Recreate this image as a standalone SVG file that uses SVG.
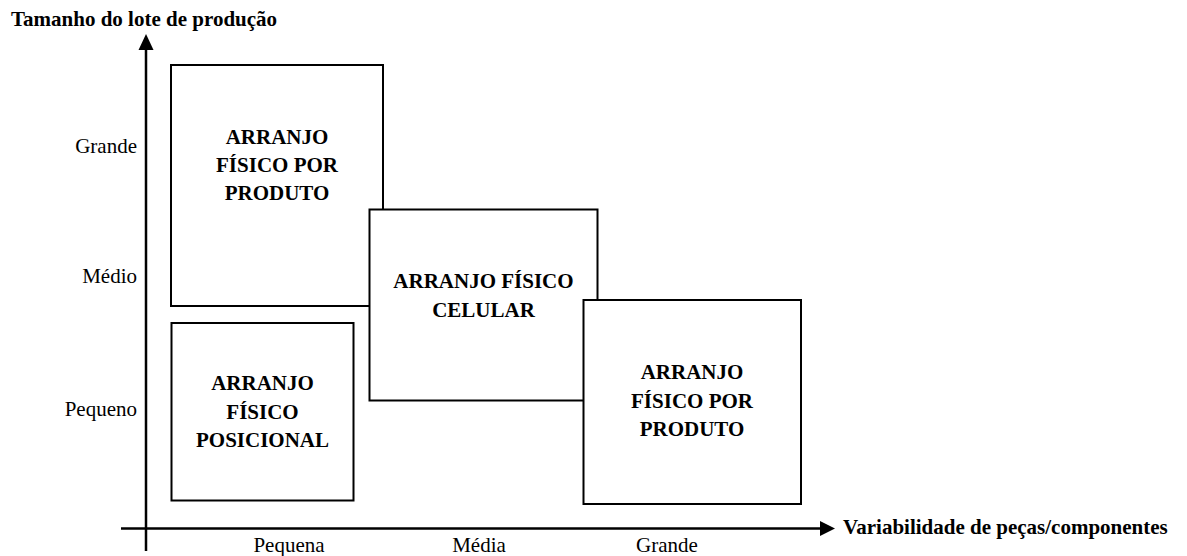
<svg xmlns="http://www.w3.org/2000/svg" width="1187" height="556" viewBox="0 0 1187 556">
<style>
text{font-family:"Liberation Serif","Times New Roman",serif;font-size:21px;fill:#000}
.b{font-weight:bold}
.c{text-anchor:middle}
.e{text-anchor:end}
.box{fill:#fff;stroke:#000;stroke-width:2}
.ax{stroke:#000;stroke-width:2.5;fill:none}
</style>
<rect width="1187" height="556" fill="#fff"/>
<g id="connectors">
<line class="ax" x1="146" y1="48" x2="146" y2="551"/>
<polygon points="146,34 138.5,50 153.5,50" fill="#000"/>
<line class="ax" x1="121" y1="528.5" x2="822" y2="528.5"/>
<polygon points="835,528.5 820,521 820,536" fill="#000"/>
</g>
<g id="axis-labels">
<text class="b" x="11" y="26">Tamanho do lote de produção</text>
<text class="b" x="843" y="534">Variabilidade de peças/componentes</text>
<text class="e" x="137" y="153">Grande</text>
<text class="e" x="137" y="283">Médio</text>
<text class="e" x="137" y="416">Pequeno</text>
<text class="c" x="289" y="552">Pequena</text>
<text class="c" x="479" y="552">Média</text>
<text class="c" x="667" y="552">Grande</text>
</g>
<g id="node-produto-1">
<rect class="box" x="171" y="65" width="212" height="241"/>
<text class="b c" x="277" y="144">ARRANJO</text>
<text class="b c" x="277" y="172">FÍSICO POR</text>
<text class="b c" x="277" y="200">PRODUTO</text>
</g>
<g id="node-posicional">
<rect class="box" x="171.5" y="323" width="182" height="177.5"/>
<text class="b c" x="262.5" y="390">ARRANJO</text>
<text class="b c" x="262.5" y="418.5">FÍSICO</text>
<text class="b c" x="262.5" y="447">POSICIONAL</text>
</g>
<g id="node-celular">
<rect class="box" x="369.5" y="209.5" width="228" height="191"/>
<text class="b c" x="483.5" y="288">ARRANJO FÍSICO</text>
<text class="b c" x="483.5" y="317">CELULAR</text>
</g>
<g id="node-produto-2">
<rect class="box" x="583.5" y="300" width="217.5" height="204"/>
<text class="b c" x="692" y="379">ARRANJO</text>
<text class="b c" x="692" y="407.5">FÍSICO POR</text>
<text class="b c" x="692" y="436">PRODUTO</text>
</g>
</svg>
